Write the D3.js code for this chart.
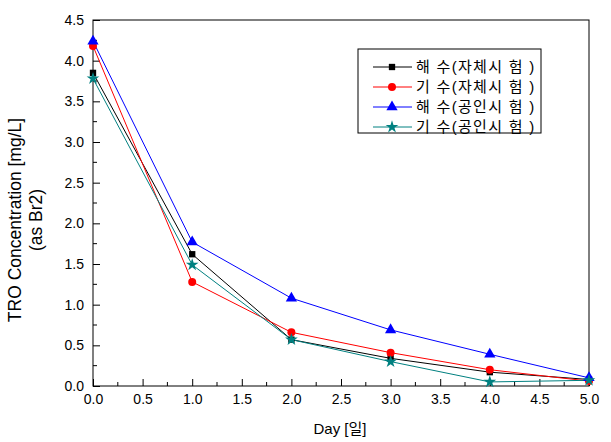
<!DOCTYPE html>
<html><head><meta charset="utf-8">
<script src="https://cdn.jsdelivr.net/npm/d3@7"></script>
<style>body{margin:0;background:#fff}text{font-family:"Liberation Sans",Arial,"Noto Sans CJK KR",sans-serif}</style>
</head><body>
<svg id="c" width="611" height="442"></svg>
<script>
const days = [0, 1, 2, 3, 4, 5];
const seaSelf = [3.85, 1.62, 0.57, 0.34, 0.17, 0.08];
const brackSelf = [4.18, 1.28, 0.66, 0.41, 0.20, 0.06];
const seaCert = [4.24, 1.77, 1.08, 0.69, 0.39, 0.10];
const brackCert = [3.78, 1.49, 0.57, 0.30, 0.05, 0.07];
const seriesNames = ["해 수(자체시 험 )", "기 수(자체시 험 )", "해 수(공인시 험 )", "기 수(공인시 험 )"];
const xTicks = [0, 0.5, 1, 1.5, 2, 2.5, 3, 3.5, 4, 4.5, 5];
const yTicks = [0, 0.5, 1, 1.5, 2, 2.5, 3, 3.5, 4, 4.5];

const series = [
  {name: seriesNames[0], vals: seaSelf, color: "#000000", sym: d3.symbolSquare, size: 40},
  {name: seriesNames[1], vals: brackSelf, color: "#ff0000", sym: d3.symbolCircle, size: 50},
  {name: seriesNames[2], vals: seaCert, color: "#0000ff", sym: d3.symbolTriangle, size: 55},
  {name: seriesNames[3], vals: brackCert, color: "#008080", sym: d3.symbolStar, size: 50}
];

const svg = d3.select("#c");
const L = 93, R = 589, T = 20, B = 386;
const x = d3.scaleLinear().domain([0, 5]).range([L, R]);
const y = d3.scaleLinear().domain([0, 4.5]).range([B, T]);

svg.append("rect").attr("x", L).attr("y", T).attr("width", R - L).attr("height", B - T)
  .attr("fill", "none").attr("stroke", "#000").attr("stroke-width", 1);

const xAxis = svg.append("g").attr("transform", `translate(0,${B})`)
  .call(d3.axisBottom(x).tickValues(xTicks).tickFormat(d3.format(".1f")).tickSize(-7).tickPadding(8));
xAxis.select(".domain").remove();
xAxis.selectAll("text").attr("font-size", 14).attr("fill", "#000");
xAxis.selectAll("line").attr("stroke", "#000");
const xMinor = d3.range(0.25, 5, 0.5);
svg.append("g").selectAll("line").data(xMinor).join("line")
  .attr("x1", d => x(d)).attr("x2", d => x(d)).attr("y1", B).attr("y2", B - 4).attr("stroke", "#000");

const yAxis = svg.append("g").attr("transform", `translate(${L},0)`)
  .call(d3.axisLeft(y).tickValues(yTicks).tickFormat(d3.format(".1f")).tickSize(-7).tickPadding(9));
yAxis.select(".domain").remove();
yAxis.selectAll("text").attr("font-size", 14).attr("fill", "#000");
yAxis.selectAll("line").attr("stroke", "#000");
const yMinor = d3.range(0.25, 4.5, 0.5);
svg.append("g").selectAll("line").data(yMinor).join("line")
  .attr("x1", L).attr("x2", L + 4).attr("y1", d => y(d)).attr("y2", d => y(d)).attr("stroke", "#000");

svg.append("text").attr("x", 340).attr("y", 434).attr("text-anchor", "middle")
  .attr("font-size", 15).text("Day [일]");
const yt = svg.append("text").attr("transform", "translate(21,220) rotate(-90)").attr("text-anchor", "middle").attr("font-size", 17.5);
yt.append("tspan").attr("x", 0).attr("dy", 0).text("TRO Concentration [mg/L]");
yt.append("tspan").attr("x", 0).attr("dy", 21).text("(as Br2)");

const line = d3.line().x((d, i) => x(days[i])).y(d => y(d));
series.forEach(s => {
  svg.append("path").attr("d", line(s.vals)).attr("fill", "none").attr("stroke", s.color).attr("stroke-width", 1);
});
series.forEach(s => {
  svg.append("g").selectAll("path").data(s.vals).join("path")
    .attr("transform", (d, i) => `translate(${x(days[i])},${y(d)})`)
    .attr("d", d3.symbol().type(s.sym).size(s.size)).attr("fill", s.color);
});

const lg = svg.append("g");
lg.append("rect").attr("x", 358).attr("y", 49).attr("width", 183).attr("height", 84)
  .attr("fill", "#fff").attr("stroke", "#000");
series.forEach((s, i) => {
  const yy = 67 + i * 20;
  lg.append("line").attr("x1", 373).attr("x2", 412).attr("y1", yy).attr("y2", yy).attr("stroke", s.color);
  lg.append("path").attr("transform", `translate(392,${yy})`).attr("d", d3.symbol().type(s.sym).size(s.size)).attr("fill", s.color);
  lg.append("text").attr("x", 416).attr("y", yy + 5).attr("font-size", 15).attr("letter-spacing", 1.3).text(s.name);
});
</script>
</body></html>
